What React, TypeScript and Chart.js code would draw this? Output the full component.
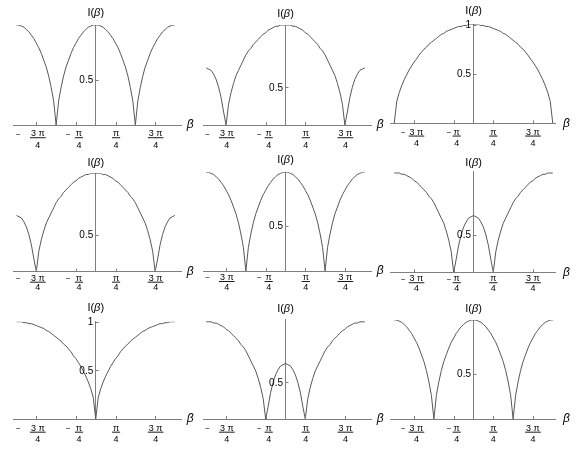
import React, { useEffect, useRef } from 'react';
import { Chart, registerables } from 'chart.js';

Chart.register(...registerables);

// ---------- data ----------
// sample angles beta (radians), step pi/32 from -pi to pi
const BETA = [
  -3.1416, -3.0434, -2.9452, -2.8471, -2.7489, -2.6507, -2.5525, -2.4544, -2.3562, -2.258, -2.1598, -2.0617, -1.9635,
  -1.8653, -1.7671, -1.669, -1.5708, -1.4726, -1.3744, -1.2763, -1.1781, -1.0799, -0.9817, -0.8836, -0.7854, -0.6872,
  -0.589, -0.4909, -0.3927, -0.2945, -0.1963, -0.0982, 0, 0.0982, 0.1963, 0.2945, 0.3927, 0.4909, 0.589, 0.6872, 0.7854,
  0.8836, 0.9817, 1.0799, 1.1781, 1.2763, 1.3744, 1.4726, 1.5708, 1.669, 1.7671, 1.8653, 1.9635, 2.0617, 2.1598, 2.258,
  2.3562, 2.4544, 2.5525, 2.6507, 2.7489, 2.8471, 2.9452, 3.0434, 3.1416,
];

// zeros at +-pi/2 (panels 1, 5, 9)
const CURVE_A = [
  0.98, 0.98, 0.97, 0.96, 0.94, 0.92, 0.89, 0.86, 0.82, 0.78, 0.73, 0.67, 0.61, 0.53, 0.43, 0.31, 0.1, 0.31, 0.43, 0.53,
  0.61, 0.67, 0.73, 0.78, 0.82, 0.86, 0.89, 0.92, 0.94, 0.96, 0.97, 0.98, 0.98, 0.98, 0.97, 0.96, 0.94, 0.92, 0.89, 0.86,
  0.82, 0.78, 0.73, 0.67, 0.61, 0.53, 0.43, 0.31, 0.1, 0.31, 0.43, 0.53, 0.61, 0.67, 0.73, 0.78, 0.82, 0.86, 0.89, 0.92,
  0.94, 0.96, 0.97, 0.98, 0.98,
];

// zeros at +-3pi/4, big central lobe (panels 2, 4)
const CURVE_B = [
  0.65, 0.64, 0.63, 0.6, 0.56, 0.5, 0.42, 0.31, 0.21, 0.37, 0.46, 0.53, 0.59, 0.63, 0.67, 0.71, 0.75, 0.78, 0.8, 0.83,
  0.85, 0.87, 0.89, 0.91, 0.92, 0.94, 0.95, 0.96, 0.97, 0.97, 0.98, 0.98, 0.98, 0.98, 0.98, 0.97, 0.97, 0.96, 0.95, 0.94,
  0.92, 0.91, 0.89, 0.87, 0.85, 0.83, 0.8, 0.78, 0.75, 0.71, 0.67, 0.63, 0.59, 0.53, 0.46, 0.37, 0.21, 0.31, 0.42, 0.5,
  0.56, 0.6, 0.63, 0.64, 0.65,
];

// single lobe, zero at +-pi (panel 3)
const CURVE_C = [
  0, 0.22, 0.31, 0.38, 0.44, 0.49, 0.54, 0.58, 0.62, 0.65, 0.69, 0.72, 0.75, 0.77, 0.8, 0.82, 0.84, 0.86, 0.88, 0.9, 0.91,
  0.93, 0.94, 0.95, 0.96, 0.97, 0.98, 0.98, 0.99, 0.99, 1.0, 1.0, 1.0, 1.0, 1.0, 0.99, 0.99, 0.98, 0.98, 0.97, 0.96, 0.95,
  0.94, 0.93, 0.91, 0.9, 0.88, 0.86, 0.84, 0.82, 0.8, 0.77, 0.75, 0.72, 0.69, 0.65, 0.62, 0.58, 0.54, 0.49, 0.44, 0.38,
  0.31, 0.22, 0,
];

// zeros at +-pi/4, small central lobe (panels 6, 8)
const CURVE_D = [
  0.98, 0.98, 0.98, 0.97, 0.97, 0.96, 0.95, 0.94, 0.92, 0.91, 0.89, 0.87, 0.85, 0.83, 0.8, 0.78, 0.75, 0.71, 0.67, 0.63,
  0.59, 0.53, 0.46, 0.37, 0.21, 0.31, 0.42, 0.5, 0.56, 0.6, 0.63, 0.64, 0.65, 0.64, 0.63, 0.6, 0.56, 0.5, 0.42, 0.31,
  0.21, 0.37, 0.46, 0.53, 0.59, 0.63, 0.67, 0.71, 0.75, 0.78, 0.8, 0.83, 0.85, 0.87, 0.89, 0.91, 0.92, 0.94, 0.95, 0.96,
  0.97, 0.97, 0.98, 0.98, 0.98,
];

// zero at 0 (panel 7)
const CURVE_E = [
  1.0, 1.0, 1.0, 0.99, 0.99, 0.98, 0.98, 0.97, 0.96, 0.95, 0.94, 0.93, 0.91, 0.9, 0.88, 0.86, 0.84, 0.82, 0.8, 0.77, 0.75,
  0.72, 0.69, 0.65, 0.62, 0.58, 0.54, 0.49, 0.44, 0.38, 0.31, 0.22, 0, 0.22, 0.31, 0.38, 0.44, 0.49, 0.54, 0.58, 0.62,
  0.65, 0.69, 0.72, 0.75, 0.77, 0.8, 0.82, 0.84, 0.86, 0.88, 0.9, 0.91, 0.93, 0.94, 0.95, 0.96, 0.97, 0.98, 0.98, 0.99,
  0.99, 1.0, 1.0, 1.0,
];

const X_TICKS = [-2.3562, -0.7854, 0.7854, 2.3562];
const X_TICK_SIGNS = ['\u2212', '\u2212', '', ''];
const X_TICK_NUMERATORS = ['3 \u03c0', '\u03c0', '\u03c0', '3 \u03c0'];
const X_TICK_DENOMINATOR = '4';
const Y_TICK_VALUES = [0.5, 1];
const Y_TICK_LABELS = ['0.5', '1'];
const Y_AXIS_TITLE = ['I(', '\u03b2', ')'];
const X_AXIS_TITLE = '\u03b2';

// ---------- layout / style ----------
const W = 581;
const H = 449;
const FONT = '"Liberation Sans", Arial, Helvetica, sans-serif';
const TEXT_COLOR = '#000000';
const AXIS_COLOR = '#7f7f7f';
const CURVE_COLOR = '#585858';

const COLS = [
  { left: 13.3, right: 181.7, xMin: -3.27, xMax: 3.41, fracOff: [1.5, 3, 0.5, 0.5], minusOff: [-18, -7.7], betaGap: 8.5 },
  { left: 203.3, right: 371.7, xMin: -3.26, xMax: 3.42, fracOff: [0.7, 3, 0.5, 0.5], minusOff: [-18.5, -6.3], betaGap: 8.5 },
  { left: 390, right: 555, xMin: -3.31, xMax: 3.23, fracOff: [2.4, 3, 0, 0], minusOff: [-10.7, -4.6], betaGap: 11.5 },
];
const ROWS = [
  { num: 9, bar: 12.8, den: 20.3, minus: 9.8 },
  { num: 6.5, bar: 10.5, den: 16.2, minus: 7 },
  { num: 9.3, bar: 13.2, den: 20.4, minus: 10.2 },
];

type Panel = {
  values: number[];
  yMin: number;
  yMax: number;
  yTicks: number[];
  col: number;
  row: number;
  top: number;
  bottom: number;
  titleY: number;
};

const PANELS: Panel[] = [
  { values: CURVE_A, yMin: 0.1, yMax: 0.98, yTicks: [0.5], col: 0, row: 0, top: 25, bottom: 125, titleY: 12.5 },
  { values: CURVE_B, yMin: 0.21, yMax: 0.98, yTicks: [0.5], col: 1, row: 0, top: 25, bottom: 125, titleY: 13.5 },
  { values: CURVE_C, yMin: 0, yMax: 1, yTicks: [0.5, 1], col: 2, row: 0, top: 24.5, bottom: 123.3, titleY: 11 },
  { values: CURVE_B, yMin: 0.21, yMax: 0.98, yTicks: [0.5], col: 0, row: 1, top: 173.3, bottom: 271.7, titleY: 162.5 },
  { values: CURVE_A, yMin: 0.1, yMax: 0.98, yTicks: [0.5], col: 1, row: 1, top: 172.3, bottom: 271, titleY: 159.5 },
  { values: CURVE_D, yMin: 0.21, yMax: 0.99, yTicks: [0.5], col: 2, row: 1, top: 171.7, bottom: 272.3, titleY: 162.5 },
  { values: CURVE_E, yMin: 0, yMax: 1, yTicks: [0.5, 1], col: 0, row: 2, top: 321.7, bottom: 419, titleY: 308 },
  { values: CURVE_D, yMin: 0.21, yMax: 1.0, yTicks: [0.5], col: 1, row: 2, top: 319.3, bottom: 419, titleY: 309 },
  { values: CURVE_A, yMin: 0.1, yMax: 0.98, yTicks: [0.5], col: 2, row: 2, top: 320, bottom: 419, titleY: 309 },
];

function makeLabelPlugin(panel: Panel) {
  const col = COLS[panel.col];
  const row = ROWS[panel.row];
  return {
    id: 'mathLabels',
    afterDraw(chart: any) {
      const ctx: CanvasRenderingContext2D = chart.ctx;
      const xs = chart.scales.x;
      const ys = chart.scales.y;
      const ox = xs.getPixelForValue(0);
      const ay = ys.getPixelForValue(panel.yMin);
      ctx.save();

      // tick marks
      ctx.strokeStyle = AXIS_COLOR;
      ctx.lineWidth = 1;
      ctx.beginPath();
      X_TICKS.forEach((t) => {
        const px = Math.round(xs.getPixelForValue(t)) + 0.5;
        ctx.moveTo(px, ay);
        ctx.lineTo(px, ay - 3);
      });
      panel.yTicks.forEach((v) => {
        const py = Math.round(ys.getPixelForValue(v)) + 0.5;
        ctx.moveTo(ox, py);
        ctx.lineTo(ox + 3, py);
      });
      ctx.stroke();

      ctx.fillStyle = TEXT_COLOR;
      ctx.textBaseline = 'middle';

      // x tick labels as fractions
      X_TICKS.forEach((t, i) => {
        const px = xs.getPixelForValue(t);
        const fx = px + col.fracOff[i];
        const num = X_TICK_NUMERATORS[i];
        ctx.font = `9px ${FONT}`;
        ctx.textAlign = 'center';
        ctx.fillText(num, fx, ay + row.num);
        ctx.fillText(X_TICK_DENOMINATOR, fx, ay + row.den);
        const w = ctx.measureText(num).width + 2;
        ctx.fillRect(fx - w / 2, ay + row.bar - 0.5, w, 0.9);
        if (X_TICK_SIGNS[i]) {
          ctx.font = `8px ${FONT}`;
          ctx.fillText(X_TICK_SIGNS[i], px + col.minusOff[i], ay + row.minus);
        }
      });

      // y tick labels
      ctx.font = `10px ${FONT}`;
      ctx.textAlign = 'right';
      panel.yTicks.forEach((v) => {
        const idx = Y_TICK_VALUES.indexOf(v);
        const py = ys.getPixelForValue(v);
        ctx.fillText(Y_TICK_LABELS[idx], ox - 2.5, py + 0.5);
      });

      // y axis title I(beta)
      ctx.textAlign = 'left';
      const fonts = [`11px ${FONT}`, `italic 11px ${FONT}`, `11px ${FONT}`];
      let total = 0;
      const widths = Y_AXIS_TITLE.map((s, i) => {
        ctx.font = fonts[i];
        const w = ctx.measureText(s).width;
        total += w;
        return w;
      });
      let cx = ox - total / 2;
      Y_AXIS_TITLE.forEach((s, i) => {
        ctx.font = fonts[i];
        ctx.fillText(s, cx, panel.titleY);
        cx += widths[i];
      });

      // x axis title beta
      ctx.font = `italic 12px ${FONT}`;
      ctx.textAlign = 'center';
      ctx.fillText(X_AXIS_TITLE, col.right + col.betaGap, ay);

      ctx.restore();
    },
  };
}

function buildConfig(panel: Panel): any {
  const col = COLS[panel.col];
  return {
    type: 'line',
    data: {
      datasets: [
        {
          data: BETA.map((b, i) => ({ x: b, y: panel.values[i] })),
          borderColor: CURVE_COLOR,
          borderWidth: 1,
          pointRadius: 0,
          tension: 0,
          fill: false,
        },
      ],
    },
    options: {
      animation: false,
      responsive: false,
      devicePixelRatio: 1,
      events: [],
      layout: {
        padding: { left: col.left, right: W - col.right, top: panel.top, bottom: H - panel.bottom },
      },
      plugins: { legend: { display: false }, tooltip: { enabled: false }, title: { display: false } },
      scales: {
        x: {
          type: 'linear',
          bounds: 'data',
          min: col.xMin,
          max: col.xMax,
          position: { y: panel.yMin },
          grid: { display: false, drawTicks: false },
          border: { display: true, color: AXIS_COLOR, width: 1 },
          ticks: { display: false },
        },
        y: {
          type: 'linear',
          bounds: 'data',
          min: panel.yMin,
          max: panel.yMax,
          position: { x: 0 },
          grid: { display: false, drawTicks: false },
          border: { display: true, color: AXIS_COLOR, width: 1 },
          ticks: { display: false },
        },
      },
    },
    plugins: [makeLabelPlugin(panel)],
  };
}

export default function App() {
  const refs = useRef<(HTMLCanvasElement | null)[]>([]);

  useEffect(() => {
    const charts = PANELS.map((p, i) => new Chart(refs.current[i] as HTMLCanvasElement, buildConfig(p)));
    return () => charts.forEach((c) => c.destroy());
  }, []);

  return (
    <div style={{ position: 'fixed', left: 0, top: 0, width: W, height: H, background: '#fff', overflow: 'hidden' }}>
      {PANELS.map((_, i) => (
        <canvas
          key={i}
          ref={(el) => {
            refs.current[i] = el;
          }}
          width={W}
          height={H}
          style={{ position: 'absolute', left: 0, top: 0, width: W, height: H }}
        />
      ))}
    </div>
  );
}
